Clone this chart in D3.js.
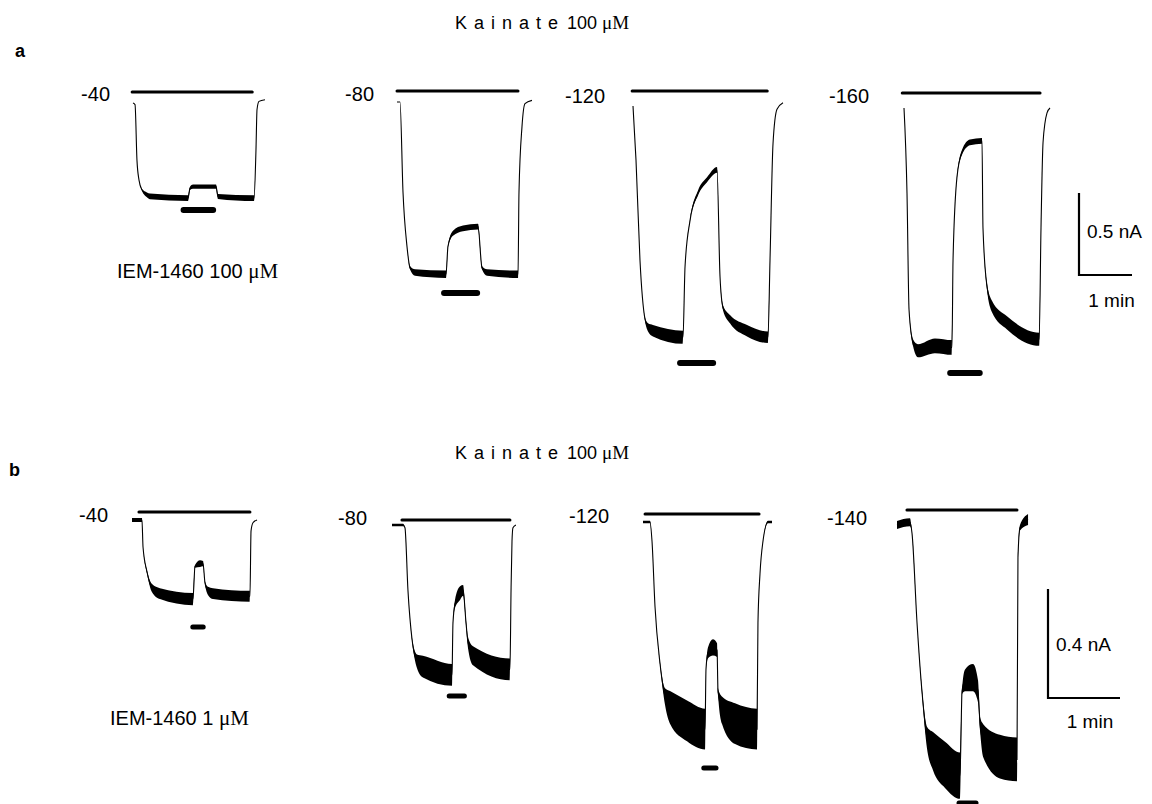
<!DOCTYPE html>
<html><head><meta charset="utf-8">
<script src="https://cdn.jsdelivr.net/npm/d3@7"></script>
<style>body{margin:0;background:#fff} svg{display:block}</style>
</head><body><svg id="c" width="1152" height="804"></svg>
<script>
// ---------------- DATA (time s, current nA, noise band nA) ----------------
const holdingA = ["-40", "-80", "-120", "-160"];
const holdingB = ["-40", "-80", "-120", "-140"];

const traceA40 = [[0,0,0],[2.3,-0.01,0],[4.5,-0.35,0],[6.8,-0.47,0],[10.2,-0.53,0.01],[15.8,-0.56,0.03],[19.2,-0.57,0.035],[62.3,-0.58,0.035],[64.5,-0.52,0.02],[67.9,-0.51,0.025],[94.0,-0.51,0.025],[96.2,-0.57,0.03],[137.0,-0.58,0.035],[139.2,-0.29,0],[140.4,-0.04,0],[142.6,0.01,0],[149.4,0.02,0]];
const traceA80 = [[0,0,0],[3.4,0,0],[6.8,-0.55,0],[11.3,-0.88,0],[14.7,-1.01,0.02],[20.4,-1.04,0.04],[55.5,-1.05,0.045],[57.7,-0.88,0.01],[63.4,-0.80,0.03],[74.7,-0.77,0.035],[91.7,-0.76,0.035],[96.2,-1.01,0.02],[101.9,-1.04,0.04],[137.0,-1.05,0.045],[138.1,-0.55,0],[141.5,-0.15,0],[144.9,-0.01,0],[152.8,0.01,0]];
const traceA120 = [[0,0,0],[3.4,-0.33,0],[7.9,-0.94,0],[13.6,-1.30,0.02],[17.0,-1.35,0.05],[22.6,-1.37,0.07],[56.6,-1.41,0.08],[58.9,-0.98,0],[64.5,-0.70,0.01],[73.6,-0.53,0.03],[83.8,-0.45,0.03],[95.1,-0.39,0.035],[98.5,-1.04,0],[101.9,-1.23,0.03],[109.8,-1.30,0.05],[129.1,-1.37,0.07],[152.8,-1.41,0.07],[155.1,-0.94,0],[158.5,-0.23,0],[163.0,-0.02,0],[169.8,0.02,0]];
const traceA160 = [[0,0,0],[3.4,-0.52,0],[5.7,-1.23,0],[10.2,-1.43,0.04],[15.8,-1.48,0.08],[35.0,-1.45,0.09],[54.3,-1.46,0.09],[55.5,-0.93,0],[60.0,-0.42,0.01],[65.7,-0.27,0.03],[74.7,-0.21,0.035],[88.3,-0.20,0.035],[89.4,-0.73,0],[94.0,-1.09,0.04],[99.6,-1.21,0.07],[116.6,-1.31,0.08],[153.0,-1.41,0.08],[155.1,-0.73,0],[157.4,-0.21,0],[161.9,-0.03,0],[165.3,0,0]];

const traceB40 = [[0,0,0.015],[8.3,0,0.015],[9.2,-0.10,0],[12.5,-0.19,0.01],[16.7,-0.25,0.03],[23.3,-0.27,0.04],[50.8,-0.29,0.045],[52.5,-0.17,0.01],[56.7,-0.16,0.025],[59.2,-0.16,0.02],[60.8,-0.23,0.01],[63.3,-0.26,0.03],[67.5,-0.27,0.04],[98.3,-0.28,0.04],[99.2,-0.04,0],[100.8,-0.01,0],[104.2,0,0]];
const traceB80 = [[0,0,0.01],[9.2,0,0.01],[10.8,-0.01,0],[13.3,-0.24,0],[16.7,-0.42,0.01],[20.8,-0.50,0.05],[25.8,-0.52,0.08],[50.0,-0.55,0.08],[50.8,-0.36,0],[52.5,-0.29,0.03],[56.7,-0.25,0.05],[59.2,-0.24,0.04],[61.7,-0.36,0.02],[63.3,-0.43,0.04],[67.5,-0.48,0.07],[98.3,-0.53,0.08],[99.2,-0.24,0],[100.0,-0.06,0],[100.8,-0.01,0],[103.3,0,0]];
const traceB120 = [[0,0,0.01],[5.8,0,0.01],[7.5,-0.07,0],[10.0,-0.31,0],[14.2,-0.52,0.01],[18.3,-0.64,0.06],[22.5,-0.68,0.12],[36.7,-0.73,0.15],[51.7,-0.76,0.15],[52.5,-0.54,0],[54.2,-0.48,0.04],[58.3,-0.46,0.06],[61.7,-0.47,0.05],[62.5,-0.62,0.02],[65.8,-0.69,0.1],[76.7,-0.74,0.15],[95.0,-0.76,0.15],[95.8,-0.37,0],[97.5,-0.19,0],[100.0,-0.07,0],[104.2,0,0.01],[107.5,0,0.01]];
const traceB140 = [[0,0,0.03],[10.8,0.01,0.03],[12.5,-0.03,0],[16.7,-0.36,0],[20.8,-0.61,0.02],[25.0,-0.78,0.08],[30.0,-0.83,0.14],[40.0,-0.88,0.17],[52.5,-0.92,0.17],[54.2,-0.61,0.02],[56.7,-0.57,0.08],[63.3,-0.56,0.1],[67.5,-0.61,0.08],[69.2,-0.73,0.05],[71.7,-0.79,0.12],[85.8,-0.85,0.16],[100.0,-0.86,0.16],[100.8,-0.12,0],[102.5,-0.01,0.02],[109.2,0.02,0.04]];

const tracesA = [traceA40, traceA80, traceA120, traceA160];
const tracesB = [traceB40, traceB80, traceB120, traceB140];

// drug application periods [start s, end s]
const kainateA = [[-1,135],[0,137],[-1,152],[-2,154]];
const iemA     = [[55,93],[51,93],[51,93],[50,88]];
const kainateB = [[5.8,98.3],[8.3,98.3],[1.7,96.7],[8.3,100]];
const iemB     = [[49,61],[46,62],[49,62.5],[50,67.5]];

// scale bars [current nA, time s]
const scaleBarA = [0.5, 60];
const scaleBarB = [0.4, 60];

// ---------------- LAYOUT ----------------
const svg = d3.select("#c");
const SANS = "'Liberation Sans', Arial, sans-serif";
const SERIF = "'Liberation Serif', 'Times New Roman', serif";

const rows = [
  { traces: tracesA, hold: holdingA, kai: kainateA, iem: iemA, bar: scaleBarA,
    x: d3.scaleLinear().domain([0,60]).range([0,53]),
    y: d3.scaleLinear().domain([0,-0.5]).range([0,82]),
    origins: [[133,103],[397,102],[633,106],[904,108]],
    kaiY: [92,91,91,93], iemY: [210,293,363,373], iemW: 6,
    labels: [[110,101],[374,101],[605,103],[869,103]],
    bar0: [1079,275], title: [455,29], letter: ["a",15,57],
    drug: ["IEM-1460 100 ", 117, 278], barText: [238, 307] },
  { traces: tracesB, hold: holdingB, kai: kainateB, iem: iemB, bar: scaleBarB,
    x: d3.scaleLinear().domain([0,60]).range([0,72]),
    y: d3.scaleLinear().domain([0,-0.4]).range([0,109]),
    origins: [[132,520],[392,525],[643,522],[897,525]],
    kaiY: [512,520,514,510], iemY: [627,696,768,803], iemW: 5,
    labels: [[108,522],[367,525],[609,523],[867,525]],
    bar0: [1048,698], title: [455,459], letter: ["b",9,476],
    drug: ["IEM-1460 1 ", 110, 725], barText: [651, 728] }
];

rows.forEach(r => {
  // panel letter
  svg.append("text").attr("x", r.letter[1]).attr("y", r.letter[2])
    .attr("font-family", SANS).attr("font-weight", "bold").attr("font-size", 18)
    .text(r.letter[0]);
  // title
  const t = svg.append("text").attr("x", r.title[0]).attr("y", r.title[1])
    .attr("font-family", SANS).attr("font-size", 18);
  t.append("tspan").attr("letter-spacing", "7px").text("Kainate");
  t.append("tspan").attr("dx", 2).text("100 ");
  t.append("tspan").attr("font-family", SERIF).attr("font-size", 19).text("μM");
  // drug text
  const d = svg.append("text").attr("x", r.drug[1]).attr("y", r.drug[2])
    .attr("font-family", SANS).attr("font-size", 20);
  d.append("tspan").text(r.drug[0]);
  d.append("tspan").attr("font-family", SERIF).attr("font-size", 21).text("μM");

  const area = d3.area().curve(d3.curveMonotoneX)
    .x(p => r.x(p[0])).y0(p => r.y(p[1] - p[2]/2)).y1(p => r.y(p[1] + p[2]/2));
  const line = d3.line().curve(d3.curveMonotoneX)
    .x(p => r.x(p[0])).y(p => r.y(p[1]));

  r.traces.forEach((tr, i) => {
    const [ox, oy] = r.origins[i];
    const g = svg.append("g").attr("transform", `translate(${ox},${oy})`);
    g.append("path").datum(tr).attr("d", area).attr("fill", "#000");
    g.append("path").datum(tr).attr("d", line).attr("fill", "none")
      .attr("stroke", "#000").attr("stroke-width", 1.1);
    // kainate bar
    const kY = r.kaiY[i] - oy;
    g.append("line").attr("x1", r.x(r.kai[i][0])).attr("x2", r.x(r.kai[i][1]))
      .attr("y1", kY).attr("y2", kY).attr("stroke", "#000").attr("stroke-width", 3)
      .attr("stroke-linecap", "round");
    // IEM bar
    const iY = r.iemY[i] - oy;
    g.append("line").attr("x1", r.x(r.iem[i][0]) + 2).attr("x2", r.x(r.iem[i][1]) - 2)
      .attr("y1", iY).attr("y2", iY).attr("stroke", "#000").attr("stroke-width", r.iemW)
      .attr("stroke-linecap", "round");
    // holding potential label
    svg.append("text").attr("x", r.labels[i][0]).attr("y", r.labels[i][1])
      .attr("text-anchor", "end").attr("font-family", SANS).attr("font-size", 20)
      .text(r.hold[i]);
  });

  // scale bar
  const [bx, by] = r.bar0;
  const hLen = r.y(-r.bar[0]);
  const wLen = r.x(r.bar[1]);
  svg.append("path")
    .attr("d", `M${bx},${by - hLen}V${by}H${bx + wLen}`)
    .attr("fill", "none").attr("stroke", "#000").attr("stroke-width", 2.2);
  svg.append("text").attr("x", bx + 8).attr("y", r.barText[0])
    .attr("font-family", SANS).attr("font-size", 19)
    .text(r.bar[0] + " nA");
  svg.append("text").attr("x", bx + wLen/2 + 6).attr("y", r.barText[1])
    .attr("text-anchor", "middle").attr("font-family", SANS).attr("font-size", 19)
    .text((r.bar[1] / 60) + " min");
});
</script></body></html>
